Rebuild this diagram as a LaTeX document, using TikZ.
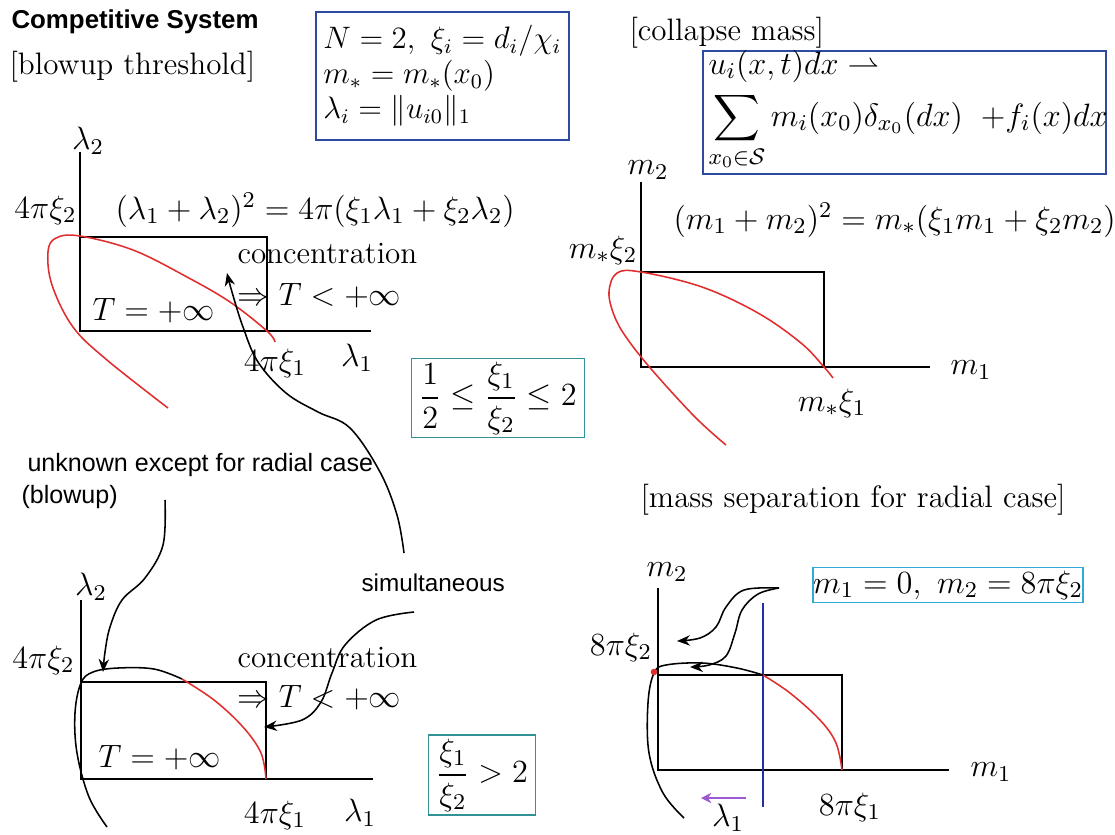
\documentclass[tikz,border=0pt]{standalone}
\usepackage{fix-cm}
\usepackage{amsmath,amssymb}
\usepackage{fontspec}
\newfontfamily\arialfont{Liberation Sans}
\usetikzlibrary{arrows.meta,positioning,calc}
\definecolor{boxblue}{RGB}{45,75,160}
\definecolor{boxteal}{RGB}{50,145,150}
\definecolor{boxcyan}{RGB}{50,170,215}
\definecolor{curvered}{RGB}{225,45,45}
\definecolor{arrowpurple}{RGB}{155,90,210}
\definecolor{lineblue}{RGB}{35,45,165}
\tikzset{
  axis/.style={line width=0.75pt},
  redline/.style={curvered, line width=0.6pt},
  handline/.style={line width=0.6pt},
  harrow/.style={line width=0.6pt, -{Stealth[length=5pt,width=4pt]}},
  mth/.style={inner sep=0pt, font=\fontsize{12.5}{15}\selectfont},
  txt/.style={inner sep=0pt, font=\fontsize{12}{14}\selectfont},
  sans/.style={inner sep=0pt, font=\arialfont\fontsize{9.7}{12}\selectfont},
  framed/.style={draw=#1, line width=0.75pt, inner sep=0pt, font=\fontsize{12.5}{13.5}\selectfont}
}

\begin{document}
\begin{tikzpicture}[x=0.0136cm, y=-0.0136cm]
  \useasboundingbox (0,0) rectangle (1115,834);

  % Headings
  \node[sans, anchor=west, font=\arialfont\bfseries\fontsize{10}{12}\selectfont] (title) at (11,22) {Competitive System};
  \node[txt, anchor=west] (thresh) at (9,67) {[blowup threshold]};
  \node[txt, anchor=west] (collapse) at (629,33) {[collapse mass]};
  \node[txt, anchor=west] (separation) at (640,500) {[mass separation for radial case]};

  % Definitions
  \node[framed=boxblue, anchor=north west, minimum width=3.44cm, minimum height=1.741cm,
        inner xsep=0.1cm, text width=3.24cm, align=left, font=\fontsize{12}{13.5}\selectfont] (defs) at (315,11)
        {\mbox{$N=2,\ \xi_i=d_i/\chi_i$}\\ \mbox{$m_*=m_*(x_0)$}\\ \mbox{$\lambda_i=\|u_{i0}\|_1$}};
  \node[framed=boxblue, anchor=north west, minimum width=5.48cm, minimum height=1.673cm] (limit) at (702,50) {};
  \node[mth, anchor=base west] (weak) at (708,74) {$u_i(x,t)dx \rightharpoonup$};
  \node[mth, anchor=base west] (sumrow) at (708,126)
    {$\displaystyle\sum_{x_0\in\mathcal{S}} m_i(x_0)\delta_{x_0}(dx)\;\;{+}f_i(x)dx$};

  % Upper left: threshold
  \draw[axis] (80,152) -- (80,331) -- (371,331);
  \draw[axis] (80,237) -| (267,331);
  \node[mth] (p1y) at (88,141) {$\lambda_2$};
  \node[mth, anchor=east] (p1ytick) at (77,210) {$4\pi\xi_2$};
  \node[mth, anchor=west] (p1eq) at (115,210) {$(\lambda_1+\lambda_2)^2=4\pi(\xi_1\lambda_1+\xi_2\lambda_2)$};
  \node[txt, anchor=base west] (p1conc) at (237,263) {concentration};
  \node[mth, anchor=base west] (p1imp) at (237,305) {$\Rightarrow T<+\infty$};
  \node[mth, anchor=base west] (p1safe) at (92,320) {$T=+\infty$};
  \node[mth] (p1xtick) at (275,363) {$4\pi\xi_1$};
  \node[mth] (p1x) at (357,358) {$\lambda_1$};
  \draw[redline] plot[smooth, tension=0.6] coordinates {(275,342) (267,331) (230,302) (187,277)
    (133,250) (80,236) (56,238) (48,252) (52,285) (73,327) (107,360) (168,408)};
  \node[framed=boxteal, minimum width=2.352cm, minimum height=1.074cm] (ratioA) at (498,398)
    {$\dfrac{1}{2}\le\dfrac{\xi_1}{\xi_2}\le 2$};

  % Upper right: collapse mass
  \draw[axis] (641,182) -- (641,367) -- (930,367);
  \draw[axis] (641,272) -| (824,367);
  \node[mth] (p2y) at (648,170) {$m_2$};
  \node[mth] (p2ytick) at (603,250) {$m_*\xi_2$};
  \node[mth, anchor=west] (p2eq) at (673,220) {$(m_1+m_2)^2=m_*(\xi_1m_1+\xi_2m_2)$};
  \node[mth] (p2x) at (971,370) {$m_1$};
  \node[mth] (p2xtick) at (832,403) {$m_*\xi_1$};
  \draw[redline] plot[smooth, tension=0.6] coordinates {(833,378) (824,367) (801,343) (758,313)
    (702,287) (641,272) (617,273) (609,292) (614,315) (626,337) (652,370) (695,417) (726,445)};

  % Remarks
  \node[sans, anchor=west] (unknown) at (27,465) {unknown except for radial case};
  \node[sans, anchor=west] (blowup) at (21,497) {(blowup)};
  \node[sans, anchor=west, font=\arialfont\fontsize{9.4}{12}\selectfont] (simul) at (361,583) {simultaneous};

  % Lower left: ratio > 2
  \draw[axis] (81,600) -- (81,779) -- (373,779);
  \draw[axis] (81,682) -| (266,779);
  \node[mth] (p3y) at (91,587) {$\lambda_2$};
  \node[mth, anchor=east] (p3ytick) at (75,660) {$4\pi\xi_2$};
  \node[txt, anchor=base west] (p3conc) at (237,667) {concentration};
  \node[mth, anchor=base west] (p3imp) at (237,707) {$\Rightarrow T<+\infty$};
  \node[mth, anchor=base west] (p3safe) at (98,767) {$T=+\infty$};
  \node[mth] (p3xtick) at (275,815) {$4\pi\xi_1$};
  \node[mth] (p3x) at (360,813) {$\lambda_1$};
  \draw[handline] plot[smooth, tension=0.6] coordinates {(107,827) (89,797) (77,753) (75,713)
    (81,683) (93,672) (118,668) (154,669) (182,679)};
  \draw[redline] plot[smooth, tension=0.6] coordinates {(182,679) (214,700) (243,727) (261,753) (266,779)};
  \node[framed=boxteal, minimum width=1.455cm, minimum height=1.088cm] (ratioB) at (482,775)
    {$\dfrac{\xi_1}{\xi_2}>2$};

  % Lower right: radial case
  \draw[axis] (658,588) -- (658,770) -- (949,770);
  \draw[axis] (658,675) -| (842,770);
  \draw[lineblue, line width=0.6pt] (763,603) -- (763,807);
  \node[mth] (p4y) at (667,572) {$m_2$};
  \node[mth] (p4ytick) at (621,647) {$8\pi\xi_2$};
  \node[mth] (p4x) at (991,772) {$m_1$};
  \node[mth] (p4xtick) at (850,807) {$8\pi\xi_1$};
  \node[mth] (p4lam) at (728,818) {$\lambda_1$};
  \draw[handline] plot[smooth, tension=0.6] coordinates {(684,818) (663,793) (649,753) (648,703)
    (654,673) (666,665) (702,663) (737,668) (763,675)};
  \draw[redline] plot[smooth, tension=0.6] coordinates {(763,675) (790,693) (820,720) (836,743) (842,770)};
  \fill[curvered] (654,672) circle[radius=0.045cm];
  \node[framed=boxcyan, minimum width=3.59cm, minimum height=0.476cm] (single) at (948,585)
    {$m_1=0,\ m_2=8\pi\xi_2$};
  \draw[arrowpurple, line width=0.8pt, -{Stealth[length=4pt,width=4pt]}] (746,798) -- (701,798);

  % Hand-drawn arrows
  \coordinate (simA) at (404,553);
  \coordinate (simB) at (414,612);
  \coordinate (unkA) at (165,500);
  \coordinate (sepA) at (779,588);
  \coordinate (p1tip) at (227,273);
  \coordinate (p3tipA) at (103,672);
  \coordinate (p3tipB) at (264,727);
  \coordinate (p4tipA) at (677,641);
  \coordinate (p4tipB) at (690,667);
  \draw[harrow] plot[smooth, tension=0.6] coordinates {(simA) (397,515) (380,472) (350,428)
    (318,412) (286,393) (258,362) (243,327) (232,292) (p1tip)};
  \draw[harrow] plot[smooth, tension=0.6] coordinates {(unkA) (163,545) (145,578) (122,600)
    (110,627) (105,652) (p3tipA)};
  \draw[harrow] plot[smooth, tension=0.6] coordinates {(simB) (376,620) (345,645) (332,673)
    (321,702) (302,720) (p3tipB)};
  \draw[harrow] plot[smooth, tension=0.6] coordinates {(sepA) (744,590) (726,607) (716,627)
    (700,638) (p4tipA)};
  \draw[harrow] plot[smooth, tension=0.6] coordinates {(sepA) (758,594) (742,610) (735,633)
    (726,656) (709,665) (p4tipB)};
\end{tikzpicture}
\end{document}
